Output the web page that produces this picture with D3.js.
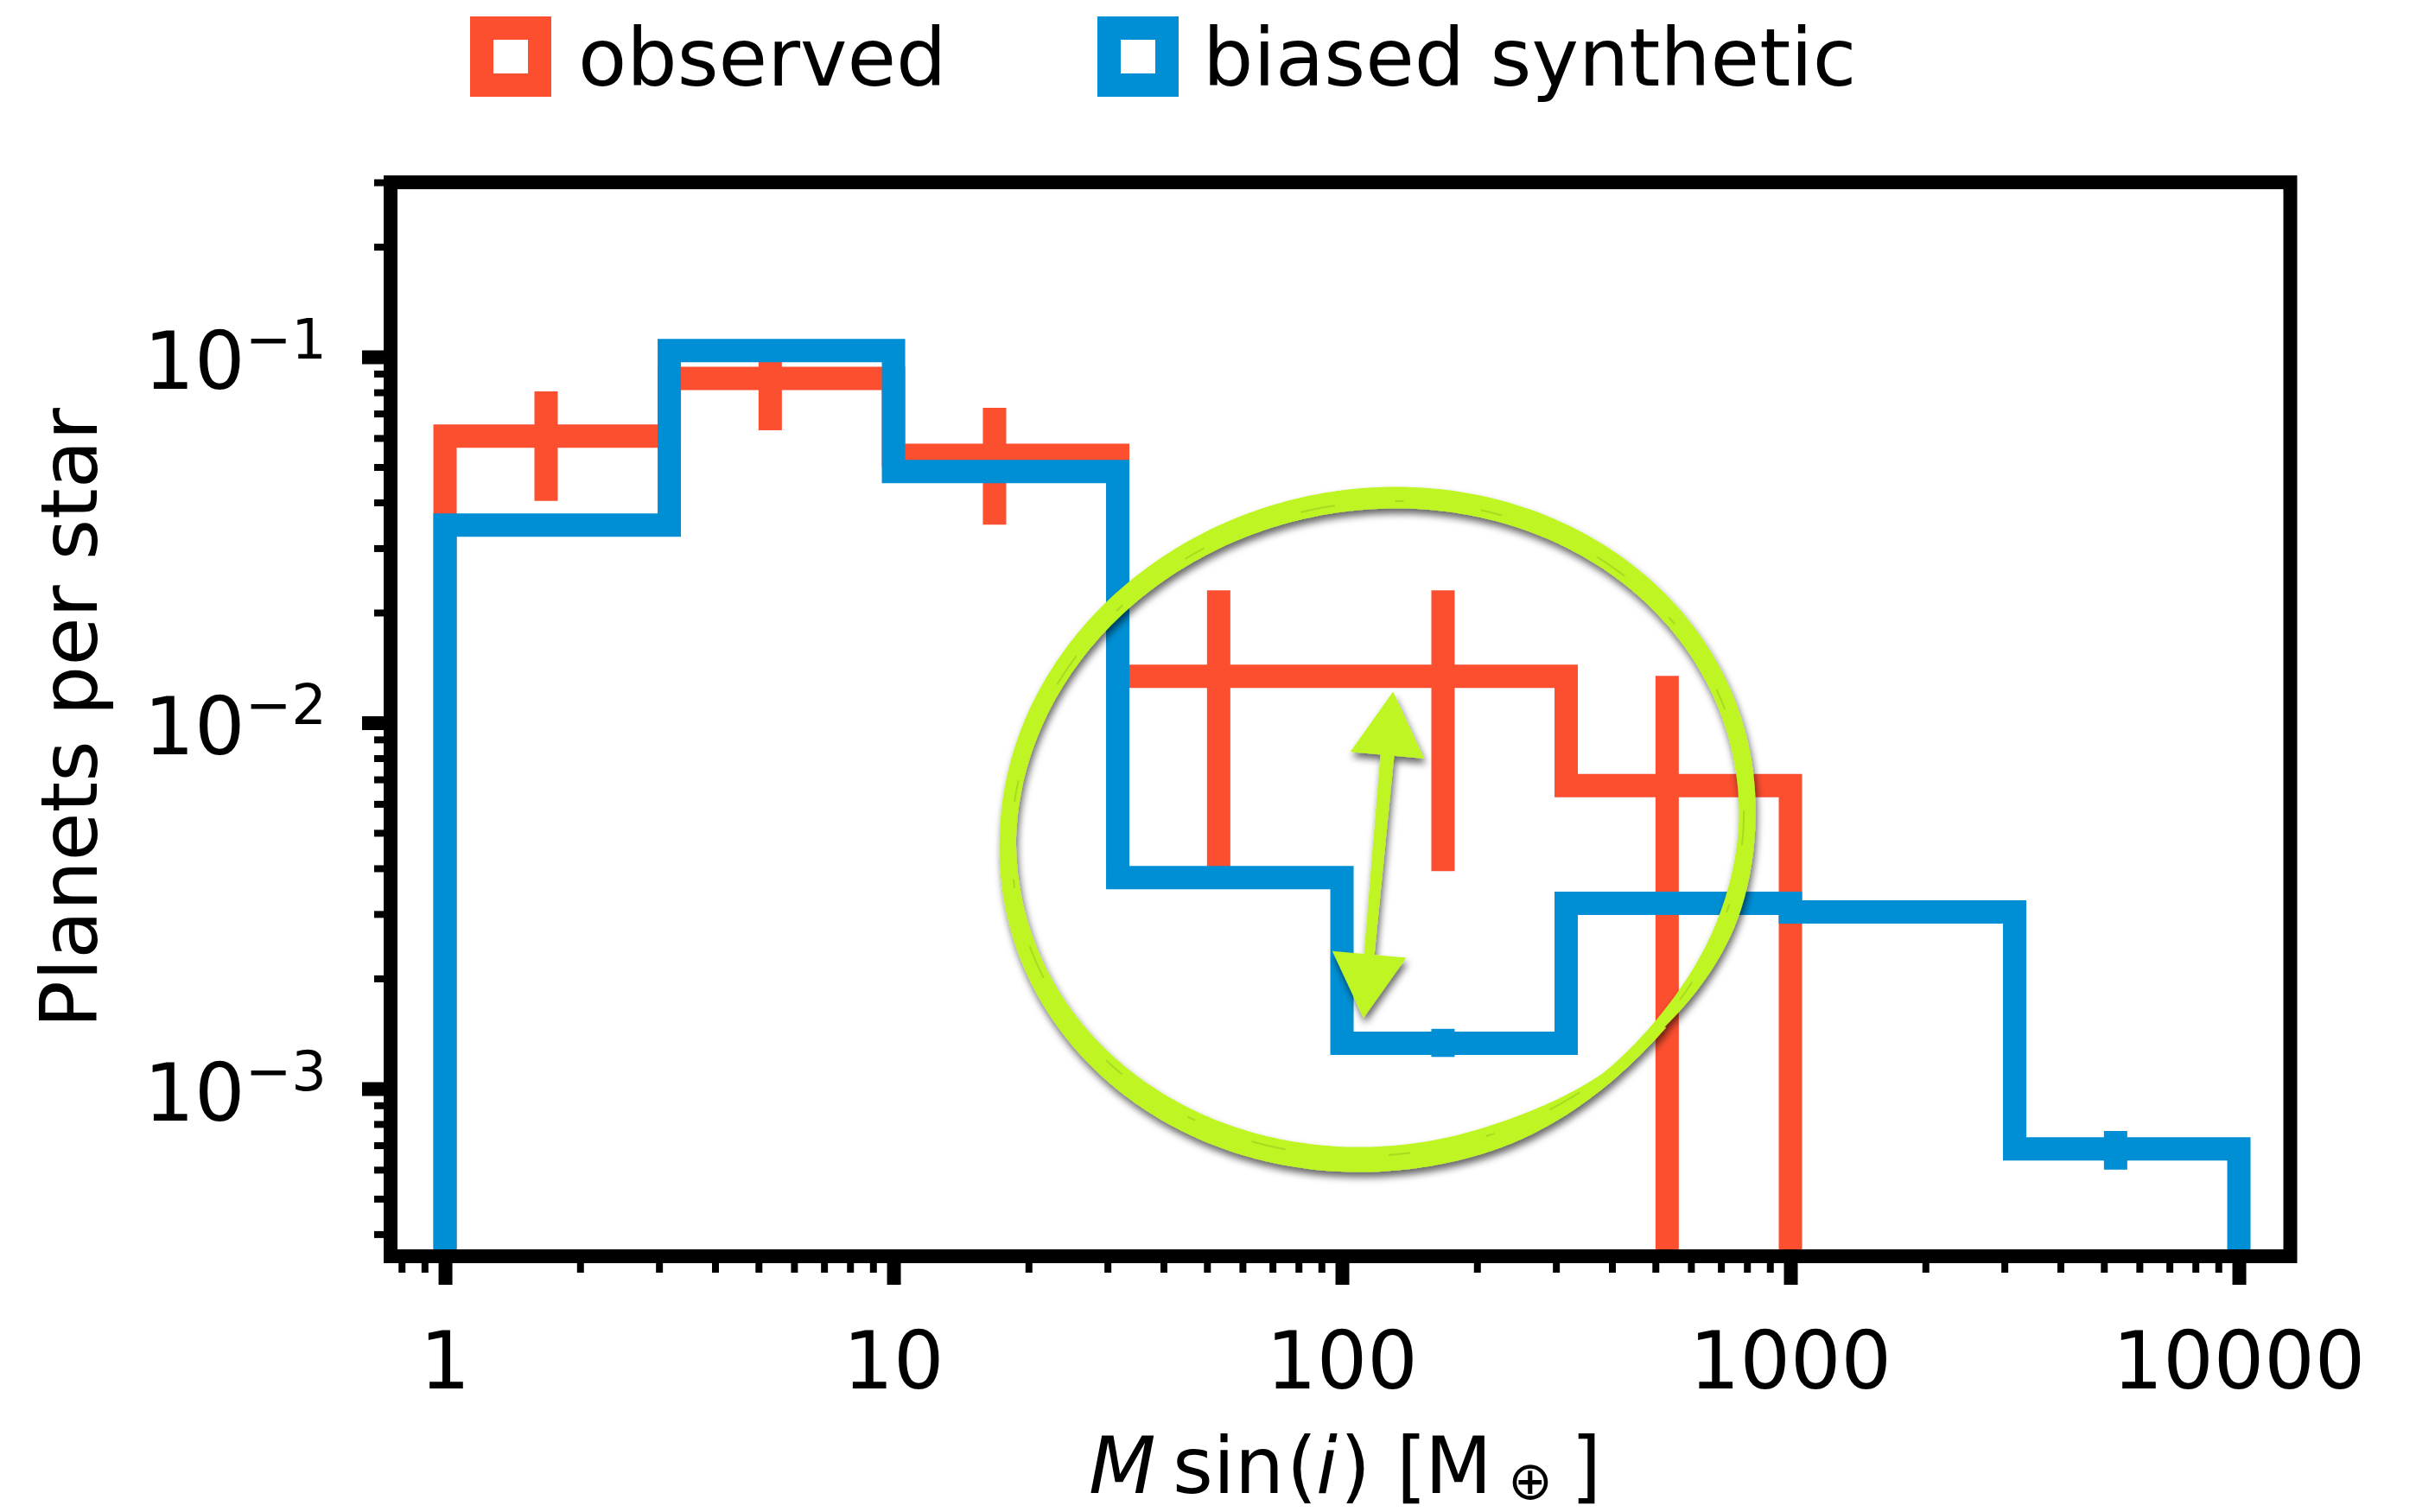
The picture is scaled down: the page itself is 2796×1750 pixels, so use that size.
<!DOCTYPE html>
<html><head><meta charset="utf-8">
<script src="https://cdn.jsdelivr.net/npm/d3@7"></script>
<style>
body{margin:0;background:#fff}
svg{display:block}
text{font-family:"DejaVu Sans",sans-serif;fill:#000}
</style>
</head><body>
<svg id="chart" width="2796" height="1750"></svg>
<script>
// ---------------- data ----------------
const binEdges   = [1, 3.1623, 10, 31.623, 100, 316.23, 1000, 3162.3, 10000];
const observed   = [0.0607, 0.0873, 0.0538, 0.0134, 0.0134, 0.00673, 0, 0];
const synthetic  = [0.0347, 0.104, 0.0486, 0.00377, 0.00133, 0.00321, 0.00304, 0.000684];

const obsErrX    = [1.68, 5.31, 16.8, 53.1, 168, 531];
const obsErrLo   = [0.0404, 0.063, 0.0348, 0.00401, 0.00393, 0];
const obsErrHi   = [0.0805, 0.100, 0.0726, 0.0230, 0.0230, 0.01343];

const synErrX    = [1.68, 5.31, 16.8, 53.1, 168, 531, 1680, 5310];
const synErrLo   = [0.0340, 0.102, 0.0476, 0.00366, 0.00122, 0.00310, 0.00294, 0.000600];
const synErrHi   = [0.0354, 0.106, 0.0496, 0.00388, 0.001456, 0.00332, 0.00314, 0.000766];

const xTicks      = [1, 10, 100, 1000, 10000];
const xTickLabels = ["1", "10", "100", "1000", "10000"];
const yTicks      = [0.1, 0.01, 0.001];
const yTickExps   = ["\u22121", "\u22122", "\u22123"];

const seriesNames = ["observed", "biased synthetic"];
const colors      = ["#fc4f30", "#008fd5"];
const green       = "#bef523";

// annotation (in data units): ellipse extents, double arrow tips
const annEllipseX = [18, 801];
const annEllipseY = [0.000640, 0.0412];
const annArrowX   = [130, 111.7];
const annArrowY   = [0.01216, 0.001558];

// ---------------- layout ----------------
const svg = d3.select("#chart");
svg.append("rect").attr("width", 2796).attr("height", 1750).attr("fill", "#fff");

const L = 452, R = 2650.5, T = 211, B = 1454;
const x = d3.scaleLog().domain([0.756, 13020]).range([L, R]);
const y = d3.scaleLog().domain([3.48e-4, 0.3]).range([B, T]);
const yPix = v => v > 0 ? y(v) : B + 200;

const defs = svg.append("defs");
defs.append("clipPath").attr("id", "clip")
  .append("rect").attr("x", L).attr("y", T).attr("width", R - L).attr("height", B - T);
const f = defs.append("filter").attr("id", "shadow")
  .attr("x", "-20%").attr("y", "-20%").attr("width", "140%").attr("height", "140%");
f.append("feDropShadow").attr("dx", 2).attr("dy", 6).attr("stdDeviation", 4)
  .attr("flood-color", "#000").attr("flood-opacity", 0.6);

const LW = 27;

// ---------------- histogram steps & error bars ----------------
const plot = svg.append("g").attr("clip-path", "url(#clip)");
function stepPoints(vals) {
  const pts = [[binEdges[0], 0]];
  vals.forEach((v, i) => { pts.push([binEdges[i], v]); pts.push([binEdges[i + 1], v]); });
  pts.push([binEdges[binEdges.length - 1], 0]);
  return pts;
}
const line = d3.line().x(d => x(d[0])).y(d => yPix(d[1]));

function drawSeries(vals, ex, lo, hi, color) {
  plot.append("path").attr("d", line(stepPoints(vals)))
    .attr("fill", "none").attr("stroke", color).attr("stroke-width", LW)
    .attr("stroke-linejoin", "miter").attr("stroke-miterlimit", 10).attr("stroke-linecap", "butt");
  plot.selectAll(null).data(ex).enter().append("line")
    .attr("x1", d => x(d)).attr("x2", d => x(d))
    .attr("y1", (d, i) => yPix(lo[i])).attr("y2", (d, i) => yPix(hi[i]))
    .attr("stroke", color).attr("stroke-width", LW);
}
drawSeries(observed, obsErrX, obsErrLo, obsErrHi, colors[0]);
drawSeries(synthetic, synErrX, synErrLo, synErrHi, colors[1]);

// ---------------- axes ----------------
const xMinor = x.ticks().filter(t => !xTicks.some(m => Math.abs(m - t) / m < 1e-6));
const yMinor = y.ticks().filter(t => !yTicks.some(m => Math.abs(m - t) / m < 1e-6));

function styleAxis(g, w) {
  g.select(".domain").remove();
  g.selectAll(".tick line").attr("stroke", "#000").attr("stroke-width", w);
  g.selectAll(".tick text").remove();
}
svg.append("g").attr("transform", `translate(0,${B})`)
  .call(d3.axisBottom(x).tickValues(xMinor).tickSize(19).tickFormat(""))
  .call(g => styleAxis(g, 8));
svg.append("g").attr("transform", `translate(0,${B})`)
  .call(d3.axisBottom(x).tickValues(xTicks).tickSize(33).tickFormat(""))
  .call(g => styleAxis(g, 16));
svg.append("g").attr("transform", `translate(${L},0)`)
  .call(d3.axisLeft(y).tickValues(yMinor).tickSize(19).tickFormat(""))
  .call(g => styleAxis(g, 8));
svg.append("g").attr("transform", `translate(${L},0)`)
  .call(d3.axisLeft(y).tickValues(yTicks).tickSize(33).tickFormat(""))
  .call(g => styleAxis(g, 16));

// spines
svg.append("rect").attr("x", L).attr("y", T).attr("width", R - L).attr("height", B - T)
  .attr("fill", "none").attr("stroke", "#000").attr("stroke-width", 16).attr("stroke-linejoin", "miter");

// tick labels
svg.selectAll(null).data(xTicks).enter().append("text")
  .attr("x", d => x(d)).attr("y", 1607).attr("text-anchor", "middle")
  .attr("font-size", 92).text((d, i) => xTickLabels[i]);

yTicks.forEach((v, i) => {
  const t = svg.append("text").attr("x", 378).attr("y", y(v) + 37)
    .attr("text-anchor", "end").attr("font-size", 92);
  t.append("tspan").text("10");
  t.append("tspan").attr("dy", -35).attr("font-size", 64).text(yTickExps[i]);
});

// axis labels
svg.append("text").attr("transform", "translate(112,831) rotate(-90)")
  .attr("text-anchor", "middle").attr("font-size", 91).text("Planets per star");

const xl = svg.append("text").attr("y", 1728).attr("font-size", 90);
[
  ["M", 1260, "italic", 90, 1728],
  ["sin", 1357, "normal", 90, 1728],
  ["(", 1489, "normal", 90, 1728],
  ["i", 1523, "italic", 90, 1728],
  [")", 1551, "normal", 90, 1728],
  ["[", 1616, "normal", 90, 1728],
  ["M", 1649, "normal", 90, 1728],
  ["\u2295", 1745, "normal", 62, 1735],
  ["]", 1818, "normal", 90, 1728]
].forEach(([s, xx, st, fs, yy]) => {
  xl.append("tspan").attr("x", xx).attr("y", yy)
    .attr("font-style", st).attr("font-size", fs).text(s);
});

// legend
const legX = [544, 1270], legTextX = [669, 1392];
seriesNames.forEach((name, i) => {
  svg.append("rect").attr("x", legX[i] + 13.5).attr("y", 32.5).attr("width", 67).attr("height", 66)
    .attr("fill", "#fff").attr("stroke", colors[i]).attr("stroke-width", LW);
  svg.append("text").attr("x", legTextX[i]).attr("y", 99).attr("font-size", 92).text(name);
});

// ---------------- green hand-drawn annotation ----------------
const ann = svg.append("g").attr("filter", "url(#shadow)");
const cx = (x(annEllipseX[0]) + x(annEllipseX[1])) / 2;
const rx = (x(annEllipseX[1]) - x(annEllipseX[0])) / 2;
const cy = (y(annEllipseY[0]) + y(annEllipseY[1])) / 2;
const ry = (y(annEllipseY[0]) - y(annEllipseY[1])) / 2;
const sk = -10;
const smooth = u => { u = Math.max(0, Math.min(1, u)); return u * u * (3 - 2 * u); };
const cpt = (t, k) => [cx + k * (rx * Math.cos(t) + sk * Math.sin(t)),
                       cy + k * (ry * Math.sin(t) + sk * Math.cos(t))];
const cnorm = t => {
  const dx = -rx * Math.sin(t) + sk * Math.cos(t), dy = ry * Math.cos(t) - sk * Math.sin(t);
  const len = Math.hypot(dx, dy);
  return [dy / len, -dx / len];
};

function ellipsePath(t0, t1, wfun, rshift) {
  const n = 500, outer = [], inner = [];
  for (let i = 0; i <= n; i++) {
    const t = t0 + (t1 - t0) * i / n;
    const p = cpt(t, 1 + rshift(t)), nn = cnorm(t), w = wfun(t);
    outer.push([p[0] + nn[0] * w / 2, p[1] + nn[1] * w / 2]);
    inner.push([p[0] - nn[0] * w / 2, p[1] - nn[1] * w / 2]);
  }
  inner.reverse();
  return "M" + outer.map(p => p[0].toFixed(1) + "," + p[1].toFixed(1)).join("L") +
         "L" + inner.map(p => p[0].toFixed(1) + "," + p[1].toFixed(1)).join("L") + "Z";
}
const t0 = 38 * Math.PI / 180, t1 = t0 + 2 * Math.PI + 0.45;
ann.append("path")
  .attr("d", ellipsePath(t0, t1,
    t => (19 + 8 * Math.abs(Math.sin(t)) + 2 * Math.sin(t)) *
         (0.3 + 0.7 * smooth((t - t0) / 0.6)) * smooth((t1 - t) / 0.9),
    t => t > t0 + 2 * Math.PI - 0.4 ? -0.012 * smooth((t - (t0 + 2 * Math.PI - 0.4)) / 0.5) : 0))
  .attr("fill", green);

// faint brush texture streaks
[[-4, "40 70 10 90 25 120"]].forEach(([off, dash]) => {
  const pts = d3.range(0, 361, 2).map(dg => {
    const t = t0 + 0.3 + dg * Math.PI / 180 * 0.95;
    const p = cpt(t, 1), nn = cnorm(t);
    return [p[0] + off * nn[0], p[1] + off * nn[1]];
  });
  svg.append("path").attr("d", d3.line()(pts)).attr("fill", "none")
    .attr("stroke", "#6b8a22").attr("stroke-opacity", 0.25).attr("stroke-width", 2)
    .attr("stroke-dasharray", dash);
});

// double arrow
const A = [x(annArrowX[0]), y(annArrowY[0])], Bp = [x(annArrowX[1]), y(annArrowY[1])];
const dvx = Bp[0] - A[0], dvy = Bp[1] - A[1], dl = Math.hypot(dvx, dvy);
const ux = dvx / dl, uy = dvy / dl, nx = -uy, ny = ux;
const headL = 74, headW = 43;
const P = (p, a, b) => [p[0] + ux * a + nx * b, p[1] + uy * a + ny * b];
const shaft = [P(A, headL - 4, -8), P(A, headL - 4, 8), P(Bp, -(headL - 4), 6), P(Bp, -(headL - 4), -6)];
const head1 = [A, P(A, headL, headW), P(A, headL, -headW)];
const head2 = [Bp, P(Bp, -headL, headW), P(Bp, -headL, -headW)];
[shaft, head1, head2].forEach(poly => {
  ann.append("path").attr("d", "M" + poly.map(p => p.join(",")).join("L") + "Z").attr("fill", green);
});
</script>
</body></html>
